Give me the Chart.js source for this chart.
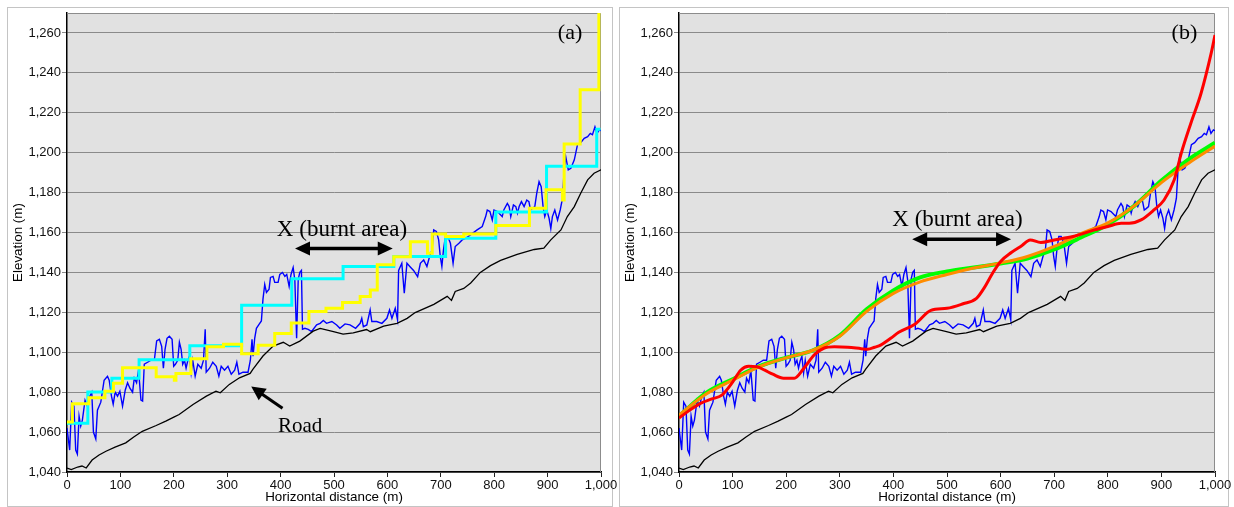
<!DOCTYPE html>
<html><head><meta charset="utf-8">
<script src="https://cdn.jsdelivr.net/npm/chart.js@4.4.1/dist/chart.umd.min.js"></script>
<style>
html,body{margin:0;padding:0;background:#fff;width:1234px;height:507px;overflow:hidden;}
.frame{position:absolute;border:1px solid #c4c4c4;box-sizing:border-box;}
canvas{position:absolute;top:0;}
</style></head><body>
<div class="frame" style="left:7px;top:7px;width:606px;height:500px"></div>
<div class="frame" style="left:619px;top:7px;width:610px;height:500px"></div>
<canvas id="ca" width="617" height="507" style="left:0px"></canvas>
<canvas id="cb" width="617" height="507" style="left:617px"></canvas>
<script>
// ---------- DATA ----------
const xTicks = [0,100,200,300,400,500,600,700,800,900,1000];
const yTicks = [1040,1060,1080,1100,1120,1140,1160,1180,1200,1220,1240,1260];

// measured terrain profile (blue)
const profileX = [0,5,8.8,13,16.3,19.4,22.6,25.7,28.8,33.8,38.2,42.6,46.4,49.5,53.9,57,63.3,69.5,75.8,79,83.3,86.5,90.2,94.6,99,104,109,113.4,117.8,122.8,126,130.3,134,138.5,141.6,144.7,151,157.3,163.5,167.9,173,177.3,180.5,183.6,187.3,191.7,196.8,199.8,203,207.4,210.5,213.7,216.7,220,223,226,229.3,232.5,235.5,240,245,251.3,255.6,258.8,260.7,267,273,279.5,284.4,288.8,295,301.4,307.6,314,318,322,329.5,339,343.4,346.5,348.4,351.5,354.7,359.6,364,367,370.3,373.5,378.4,381,385.9,389,395.3,398.5,403.5,408,411.5,416,419.5,423.5,426.7,430,433,436,439,441,445.5,451.7,458,467.5,474,480,486,496,505,511,520.7,530,540.5,549,552,555,561.5,567.7,570.8,580,589.7,599,604,608.5,614.7,619,621,627,631.6,636.6,642,649,656.6,661.7,668,674,679,683.6,686.7,691.7,696,699,702,705,708.6,713,718,723,727,734,740,746,755.6,768,777.6,784,787,792,796.4,799.6,806,815,818,824.6,828,831,836,840.5,843.6,846.7,851,856,861,865,868,871.6,876,879.7,884,888,891.5,894.7,898.5,902.8,906,909,913.5,918.6,923.6,928,931,934,938.7,943.6,950,956,962,968.6,975,980,984,988.7,992.5,997,1000];
const profileY = [1062,1051,1075,1073,1051,1049,1068,1063,1066,1076,1073,1078,1080,1060,1056.6,1071,1075,1086,1088,1086,1078,1074,1080,1078,1080.5,1073,1081,1084.7,1082,1080,1087,1084.7,1091,1076,1075.5,1094,1095,1096,1096,1105.7,1106.5,1103,1092,1101.5,1107,1108,1106.5,1093,1094,1096,1105,1101.5,1094,1096,1092,1095.6,1098,1089.7,1096,1088,1094,1092,1096,1111.5,1090,1092,1095,1093,1088,1093,1091,1093,1089,1091,1095,1089,1090,1090,1096,1106.5,1098,1107,1112,1114,1115.7,1126.6,1134,1130,1131.6,1137.5,1138,1135,1135,1139,1140,1138,1139,1133,1139,1142.5,1136,1107,1136.6,1140,1141,1111.5,1112,1111.5,1110.4,1113.7,1114.5,1115.9,1114.5,1115.4,1113.7,1112,1114.2,1113.7,1112,1114.5,1117,1112.8,1113.7,1121.2,1115.4,1115.4,1114.5,1117,1121.2,1117,1122,1116.2,1141,1144.6,1129.6,1144.6,1143,1141,1137.9,1144.6,1146.3,1143,1148,1151.3,1161.3,1160.5,1156.3,1148,1143,1151.3,1158,1158,1154.6,1144.6,1153,1154.6,1156.3,1157,1158.8,1161.3,1163,1168,1171.3,1170.5,1166.3,1171.3,1170.5,1168,1171.3,1174.6,1173,1168,1173.8,1173,1169.7,1173,1175.5,1173,1176.3,1175.5,1171.3,1172,1173,1179.7,1185.5,1183,1173,1168,1171.3,1167.1,1162,1168,1171.3,1166.3,1171.3,1177.2,1191.4,1198,1191.4,1192.2,1196.4,1204,1205,1207.2,1208,1209.7,1209,1213,1209.7,1211.4,1211];

// road (black)
const roadX = [0,8,20,28,36,47,60,73,90,110,125,141,167,185,200,210,236,261,279,287,304,323,343,348,367,386,405,417,436,461,474,499,517,536,561,568,593,618,637,652,687,712,720,727,743,756,774,793,812,843,875,893,906,925,937,950,962,975,987,1000];
const roadY = [1042,1041.2,1042.5,1043,1042,1046,1048.5,1050.4,1052.5,1054.6,1057.5,1060.4,1063.3,1065.5,1067.5,1068.8,1073.8,1078,1080.5,1079.7,1083.9,1087.2,1089.4,1091.4,1098.1,1103.1,1105,1103.1,1105.6,1110.6,1112,1110.3,1109.1,1109.7,1111.4,1110.3,1113.1,1114.5,1117,1119.9,1124,1128,1126,1130.5,1132,1134.7,1140,1143.4,1146,1149,1151.5,1152.2,1156.3,1161.3,1168,1173,1179.7,1186.4,1189.7,1191.4];

// panel (a) step profiles (value holds from each x until the next x)
const cyanX = [0,39,84,135,230,327,421,517,612,709,803,898,992,999];
const cyanY = [1064.4,1080.1,1087,1096.2,1103.2,1123.5,1136.8,1143,1148,1157.1,1170.3,1193.2,1211.8,1211.8];
const yellowX = [0,10,41,71,87,104,167,201,204,232,262,293,327,358,389,420,453,485,516,549,568,581,612,643,675,684,709,743,803,866,897,928,931,961,996];
const yellowY = [1065,1074.2,1077.2,1080.5,1084.5,1092.2,1087.7,1086,1089.4,1096.8,1102.7,1104,1099.3,1103.5,1109.4,1114.6,1120.4,1122,1124.9,1127.9,1131.2,1143.8,1147.9,1155.4,1149.6,1159.3,1158,1159.3,1163.5,1172.2,1181.4,1176.3,1204.4,1231.5,1290];

// panel (b) smooth profiles
const curveX = [0,50,100,150,200,250,300,350,400,450,500,550,600,650,700,750,800,850,900,950,1000];
const greenY = [1068,1079.5,1086.5,1093,1097.3,1101,1108.5,1121.5,1131,1137.5,1140.5,1142.5,1144.5,1147,1151.5,1157.5,1164,1173.5,1186,1196.5,1205];
const orangeY = [1068.5,1079,1086,1092.8,1097.2,1101,1108,1120.5,1129.5,1135.3,1139,1142.2,1144.8,1148,1153,1159.5,1164.8,1173.5,1185,1194.6,1203.3];
const redX = [0,20,40,60,80,100,115,130,145,160,175,195,215,233,252,270,290,315,340,352,365,377,395,410,440,470,500,530,555,570,585,600,620,640,655,675,700,735,775,800,825,840,862,886,905,924,937,955,974,993,1000];
const redY = [1067,1071,1074.4,1076.5,1078.5,1085,1091,1093,1092.8,1091,1089,1087,1087,1092,1098.6,1102,1102.7,1102.5,1101.8,1101.5,1102.5,1103.7,1107,1110,1114,1121,1122,1124.3,1127,1132.5,1139.6,1145.5,1150,1153.5,1156.3,1155,1156.3,1158,1161.3,1163,1164.6,1164.6,1166.3,1171.3,1176.3,1186.4,1199.7,1214.8,1229.8,1250,1259];

// ---------- RENDERING ----------
const SANS = "'Liberation Sans', Arial, sans-serif";
const SERIF = "'Liberation Serif', 'Times New Roman', serif";
function pts(xs, ys){ return xs.map((x,i)=>({x:x, y:ys[i]})); }

function head(ctx, x1,y1,x2,y2,len,half){
  const a = Math.atan2(y2-y1, x2-x1), c=Math.cos(a), s=Math.sin(a);
  ctx.beginPath();
  ctx.moveTo(x2,y2);
  ctx.lineTo(x2 - len*c + half*s, y2 - len*s - half*c);
  ctx.lineTo(x2 - len*c - half*s, y2 - len*s + half*c);
  ctx.closePath(); ctx.fill();
}
function arrow(ctx, x1,y1,x2,y2,o){
  const a = Math.atan2(y2-y1,x2-x1), c=Math.cos(a), s=Math.sin(a);
  const k = o.len*0.7;
  ctx.lineWidth = o.width;
  ctx.beginPath();
  ctx.moveTo(o.both ? x1 + k*c : x1, o.both ? y1 + k*s : y1);
  ctx.lineTo(x2 - k*c, y2 - k*s);
  ctx.stroke();
  head(ctx,x1,y1,x2,y2,o.len,o.half);
  if(o.both) head(ctx,x2,y2,x1,y1,o.len,o.half);
}

const framePlugin = {
  id:'frameBg',
  beforeDraw(chart){
    const {ctx, chartArea:{left,top,right,bottom}} = chart;
    ctx.save(); ctx.fillStyle='#e1e1e1'; ctx.fillRect(left,top,right-left,bottom-top); ctx.restore();
  },
  beforeDatasetsDraw(chart){
    const {ctx, chartArea:{left,top,right,bottom}} = chart;
    ctx.save(); ctx.strokeStyle='#8c8c8c'; ctx.lineWidth=1;
    ctx.beginPath(); ctx.moveTo(left, top+0.5); ctx.lineTo(right-0.5, top+0.5); ctx.lineTo(right-0.5, bottom); ctx.stroke();
    ctx.restore();
  }
};
const notesPlugin = {
  id:'notes',
  afterDatasetsDraw(chart, args, opts){
    const ctx = chart.ctx, sx = chart.scales.x, sy = chart.scales.y;
    ctx.save(); ctx.fillStyle='#000'; ctx.strokeStyle='#000';
    (opts.texts||[]).forEach(t=>{
      ctx.font = t.font; ctx.textAlign = t.align; ctx.textBaseline='middle';
      ctx.fillText(t.text, sx.getPixelForValue(t.x), sy.getPixelForValue(t.y));
    });
    (opts.arrows||[]).forEach(a=>{
      arrow(ctx, sx.getPixelForValue(a.x1), sy.getPixelForValue(a.y1), sx.getPixelForValue(a.x2), sy.getPixelForValue(a.y2), a);
    });
    ctx.restore();
  }
};

function makeChart(id, datasets, cfg){
  return new Chart(document.getElementById(id), {
    type:'line',
    data:{datasets:datasets},
    plugins:[framePlugin, notesPlugin],
    options:{
      responsive:false, animation:false, devicePixelRatio:1,
      layout:{padding:{top:13, right:cfg.padRight, bottom:0, left:0}},
      elements:{point:{radius:0}, line:{tension:0}},
      plugins:{legend:{display:false}, tooltip:{enabled:false}, notes:cfg.notes},
      scales:{
        x:{type:'linear', min:0, max:1000,
          afterBuildTicks:s=>{ s.ticks = xTicks.map(v=>({value:v})); },
          afterFit:s=>{ s.height = 35; s.paddingLeft = 0; s.paddingRight = 0; },
          ticks:{font:{family:SANS,size:13}, color:'#111', padding:1, maxRotation:0, autoSkip:false,
            callback:v=>v.toLocaleString('en-US')},
          grid:{drawOnChartArea:false, drawTicks:true, tickLength:5, color:'#222', lineWidth:1},
          border:{color:'#000', width:1.5},
          title:{display:true, text:'Horizontal distance (m)', color:'#000', font:{family:SANS,size:13.4}, padding:{top:0,bottom:1.5}}
        },
        y:{type:'linear', min:1040, max:1270,
          afterBuildTicks:s=>{ s.ticks = yTicks.map(v=>({value:v})); },
          afterFit:s=>{ s.width = cfg.yWidth; s.paddingTop = 0; s.paddingBottom = 0; },
          ticks:{font:{family:SANS,size:13}, color:'#111', padding:1,
            callback:v=>v.toLocaleString('en-US')},
          grid:{color:'#8a8a8a', lineWidth:1, tickLength:5},
          border:{color:'#000', width:1.5},
          title:{display:true, text:'Elevation (m)', color:'#000', font:{family:SANS,size:13.4}, padding:{top:cfg.titlePad,bottom:0}}
        }
      }
    }
  });
}

const blueDs = () => ({data:pts(profileX,profileY), borderColor:'#0000ff', borderWidth:1.4, order:5});
const roadDs = () => ({data:pts(roadX,roadY), borderColor:'#000000', borderWidth:1.3, order:4});

makeChart('ca', [
  {data:pts(yellowX,yellowY), borderColor:'#ffff00', borderWidth:3, stepped:'before', order:0, clip:0},
  {data:pts(cyanX,cyanY), borderColor:'#00ffff', borderWidth:3, stepped:'before', order:1},
  blueDs(), roadDs()
], {padRight:16, yWidth:67, titlePad:10, notes:{
  texts:[
    {text:'(a)', x:942, y:1260, align:'center', font:'22px '+SERIF},
    {text:'X (burnt area)', x:393, y:1161.3, align:'left', font:'23px '+SERIF},
    {text:'Road', x:395, y:1062.6, align:'left', font:'21px '+SERIF}
  ],
  arrows:[
    {x1:427, y1:1152, x2:610, y2:1152, both:true, width:3.5, len:15, half:7},
    {x1:403.6, y1:1071.9, x2:345, y2:1082.8, both:false, width:3, len:14, half:7}
  ]
}});

makeChart('cb', [
  {data:pts(redX,redY), borderColor:'#ff0000', borderWidth:3, cubicInterpolationMode:'monotone', order:0},
  {data:pts(curveX,orangeY), borderColor:'rgb(255,140,0)', borderWidth:3, cubicInterpolationMode:'monotone', order:1},
  {data:pts(curveX,greenY), borderColor:'#00ff00', borderWidth:4, cubicInterpolationMode:'monotone', order:2},
  blueDs(), roadDs()
], {padRight:19, yWidth:62, titlePad:5, notes:{
  texts:[
    {text:'(b)', x:943, y:1260, align:'center', font:'22px '+SERIF},
    {text:'X (burnt area)', x:398, y:1166.3, align:'left', font:'23px '+SERIF}
  ],
  arrows:[
    {x1:435, y1:1156.6, x2:619.5, y2:1156.6, both:true, width:3.5, len:15, half:7}
  ]
}});
</script>
</body></html>
